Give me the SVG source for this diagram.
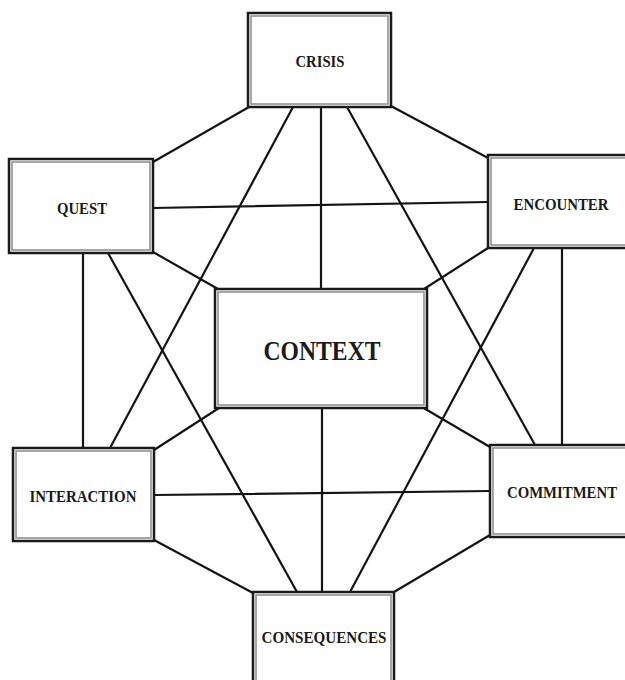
<svg xmlns="http://www.w3.org/2000/svg" width="625" height="680" viewBox="0 0 625 680">
<style>
.outer{fill:#fff;stroke:#1a1a1a;stroke-width:2.5}
.inner{fill:none;stroke:#8a8a8a;stroke-width:1.5}
.lbl{font-family:"Liberation Serif","Times New Roman",serif;font-weight:bold;font-size:16px;fill:#1a1a1a;text-anchor:middle}
.big{font-size:28px}
#connectors line{stroke:#141414;stroke-width:2.2;stroke-linecap:round}
</style>
<rect width="625" height="680" fill="#fff"/>
<g id="connectors">
<line x1="249" y1="107" x2="153" y2="162"/>
<line x1="391" y1="106" x2="488" y2="158"/>
<line x1="321" y1="107" x2="321" y2="289"/>
<line x1="293" y1="107" x2="110" y2="448"/>
<line x1="347" y1="107" x2="535" y2="445"/>
<line x1="153" y1="208" x2="488" y2="202"/>
<line x1="153" y1="252" x2="218" y2="289"/>
<line x1="488" y1="248" x2="424" y2="289"/>
<line x1="83" y1="253" x2="83" y2="448"/>
<line x1="108" y1="253" x2="297" y2="592"/>
<line x1="534" y1="248" x2="350" y2="592"/>
<line x1="562" y1="248" x2="562" y2="445"/>
<line x1="219" y1="408" x2="154" y2="450"/>
<line x1="422" y1="407" x2="490" y2="447"/>
<line x1="322" y1="408" x2="322" y2="592"/>
<line x1="154" y1="495" x2="490" y2="491"/>
<line x1="154" y1="540" x2="253" y2="593"/>
<line x1="490" y1="535" x2="394" y2="592"/>
</g>
<g id="crisis">
<rect class="outer" x="248" y="13" width="143" height="94"/>
<rect class="inner" x="251" y="16" width="137" height="88"/>
<text class="lbl" x="320" y="67" textLength="49" lengthAdjust="spacingAndGlyphs">CRISIS</text>
</g>
<g id="quest">
<rect class="outer" x="9" y="159" width="144" height="94"/>
<rect class="inner" x="12" y="162" width="138" height="88"/>
<text class="lbl" x="82" y="214" textLength="50" lengthAdjust="spacingAndGlyphs">QUEST</text>
</g>
<g id="encounter">
<rect class="outer" x="488" y="155" width="142" height="93"/>
<rect class="inner" x="491" y="158" width="136" height="87"/>
<text class="lbl" x="561" y="210" textLength="95" lengthAdjust="spacingAndGlyphs">ENCOUNTER</text>
</g>
<g id="context">
<rect class="outer" x="215" y="289" width="212" height="119"/>
<rect class="inner" x="218" y="292" width="206" height="113"/>
<text class="lbl big" x="322" y="360" textLength="117" lengthAdjust="spacingAndGlyphs">CONTEXT</text>
</g>
<g id="interaction">
<rect class="outer" x="13" y="448" width="141" height="93"/>
<rect class="inner" x="16" y="451" width="135" height="87"/>
<text class="lbl" x="83" y="502" textLength="107" lengthAdjust="spacingAndGlyphs">INTERACTION</text>
</g>
<g id="commitment">
<rect class="outer" x="490" y="445" width="142" height="92"/>
<rect class="inner" x="493" y="448" width="136" height="86"/>
<text class="lbl" x="562" y="498" textLength="110" lengthAdjust="spacingAndGlyphs">COMMITMENT</text>
</g>
<g id="consequences">
<rect class="outer" x="253" y="592" width="141" height="100"/>
<rect class="inner" x="256" y="595" width="135" height="94"/>
<text class="lbl" x="324" y="643" textLength="125" lengthAdjust="spacingAndGlyphs">CONSEQUENCES</text>
</g>
</svg>
